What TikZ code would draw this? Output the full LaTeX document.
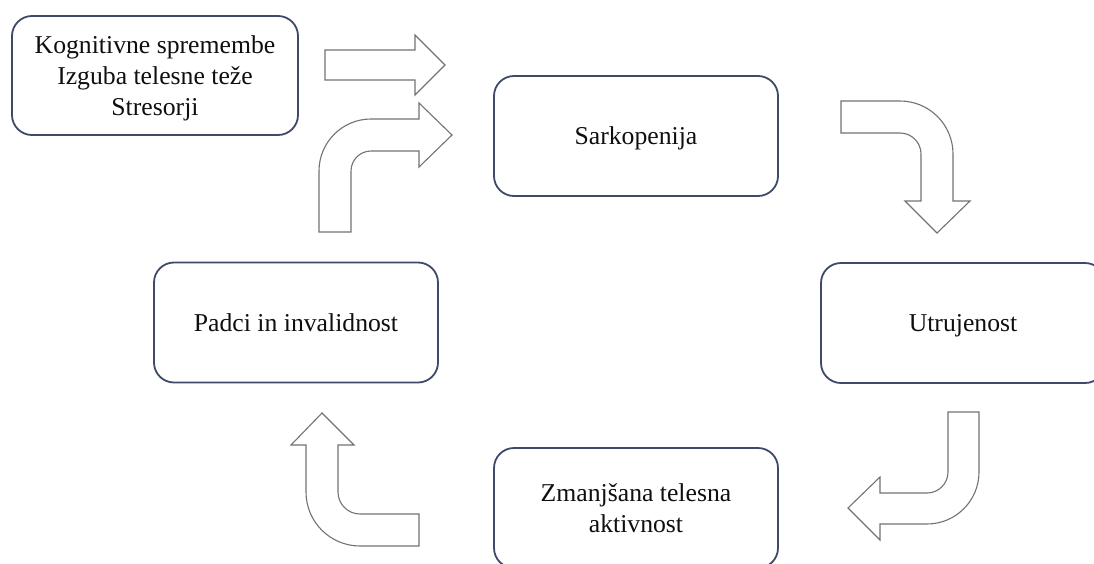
\documentclass[tikz,border=0pt]{standalone}
\usepackage{fontspec}
\setmainfont{Liberation Serif}
\definecolor{boxline}{RGB}{62,74,104}
\definecolor{arrline}{RGB}{115,115,115}
\definecolor{txt}{RGB}{15,15,15}
\begin{document}
\begin{tikzpicture}[x=1pt,y=-1pt,
  box/.style={draw=boxline,line width=1.8pt,rounded corners=20pt,fill=white,
    minimum width=284pt,minimum height=120pt,align=center,inner sep=0pt,
    text depth=0pt,text=txt,font=\fontsize{25.7}{31}\selectfont},
  blockarrow/.style={draw=arrline,line width=1.1pt,fill=white,line join=miter}]
\useasboundingbox (0,0) rectangle (1094,563);
\clip (0,0) rectangle (1094,563);
\fill[white] (0,0) rectangle (1094,563);
% boxes
\node[box,minimum width=286pt,minimum height=119pt] (k) at (155,75.5) {Kognitivne spremembe\\Izguba telesne teže\\Stresorji};
\node[box] (s) at (636,136) {Sarkopenija};
\node[box] (u) at (963,323) {Utrujenost};
\node[box] (p) at (296,322.5) {Padci in invalidnost};
\node[box] (z) at (636,508) {Zmanjšana telesna\\aktivnost};
% straight arrow
\draw[blockarrow] (325,50) -- (415,50) -- (415,35) -- (445,65) -- (415,95) -- (415,80) -- (325,80) -- cycle;
% bent arrow up-right
\draw[blockarrow] (319,232) -- (319,171) .. controls (319,142.3) and (342.3,119) .. (371,119)
  -- (419,119) -- (419,103) -- (452,135) -- (419,167) -- (419,151) -- (371,151)
  .. controls (360,151) and (351,160) .. (351,171) -- (351,232) -- cycle;
% right then down
\draw[blockarrow] (841,101) -- (900,101) .. controls (929.3,101) and (953,124.7) .. (953,154)
  -- (953,201) -- (970,201) -- (937,233) -- (905,201) -- (921,201) -- (921,154)
  .. controls (921,142.4) and (911.6,133) .. (900,133) -- (841,133) -- cycle;
% down then left
\draw[blockarrow] (948,412) -- (979,412) -- (979,472) .. controls (979,500.7) and (955.7,524) .. (927,524)
  -- (880,524) -- (880,540) -- (848,508) -- (880,477) -- (880,493) -- (927,493)
  .. controls (938.6,493) and (948,483.6) .. (948,472) -- cycle;
% left then up
\draw[blockarrow] (419,514) -- (419,546) -- (360,546) .. controls (330.2,546) and (306,521.8) .. (306,492)
  -- (306,445) -- (291,445) -- (322,413) -- (354,445) -- (338,445) -- (338,492)
  .. controls (338,504.1) and (347.9,514) .. (360,514) -- cycle;
\end{tikzpicture}
\end{document}
